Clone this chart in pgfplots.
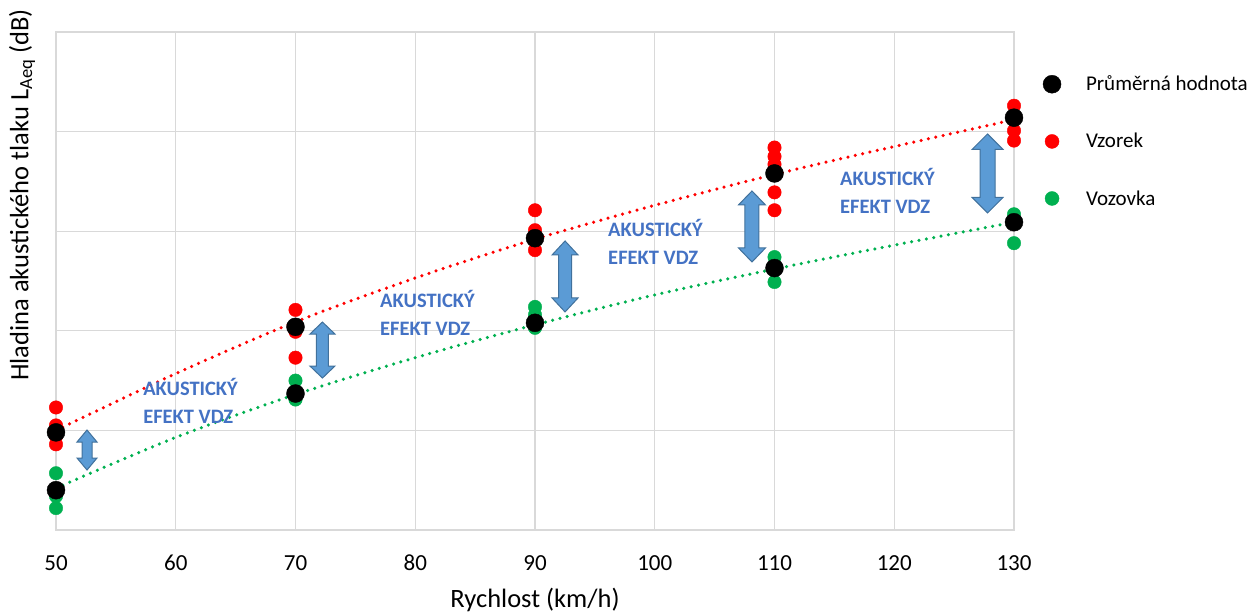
\documentclass[border=0pt]{standalone}
\usepackage{fontspec}
\setmainfont{Carlito}
\usepackage{pgfplots}
\pgfplotsset{compat=1.18}

\definecolor{xgreen}{HTML}{00B050}
\definecolor{xred}{HTML}{FF0000}
\definecolor{arrfill}{HTML}{5B9BD5}
\definecolor{arrdraw}{HTML}{41719C}
\definecolor{txtblue}{HTML}{4472C4}
\definecolor{gridgray}{HTML}{D9D9D9}

\newcommand{\dblarr}[6]{\draw[fill=arrfill, draw=arrdraw, line width=1bp, line join=miter] (axis cs:#1,#2) -- ++(#3bp,-#5bp) -- ++(-#4bp,0bp) -- ++(0bp,-#6bp) -- ++(#4bp,0bp) -- ++(-#3bp,-#5bp) -- ++(-#3bp,#5bp) -- ++(#4bp,0bp) -- ++(0bp,#6bp) -- ++(-#4bp,0bp) -- cycle;}

\pgfplotstableread{
x y
50 1.23
50 1.05
50 0.94
50 0.86
70 2.21
70 1.99
70 1.73
90 3.21
90 3.01
90 2.81
110 3.84
110 3.75
110 3.67
110 3.39
110 3.21
130 4.26
130 4.14
130 4.01
130 3.91
}\vzorek

\pgfplotstableread{
x y
50 0.57
50 0.34
50 0.22
70 1.50
70 1.31
90 2.24
90 2.16
90 2.03
110 2.74
110 2.49
130 3.17
130 2.88
}\vozovka

\pgfplotstableread{
x y
50 0.98
50 0.40
70 2.04
70 1.37
90 2.93
90 2.08
110 3.58
110 2.63
130 4.14
130 3.09
}\prumer

\pgfplotstableread{
x y
50 1.00
60 1.57
70 2.09
80 2.53
90 2.92
100 3.26
110 3.57
120 3.85
130 4.12
}\trendred

\pgfplotstableread{
x y
50 0.42
60 0.93
70 1.36
80 1.73
90 2.06
100 2.36
110 2.62
120 2.86
130 3.09
}\trendgreen

\pgfplotsset{legmark/.style={legend image code/.code={\path[draw=none,fill=none] (0bp,0bp) rectangle (41bp,0.1bp); \draw[##1] plot coordinates {(9bp,0bp)};}}}

\begin{document}
\begin{tikzpicture}
\useasboundingbox (-56bp,-82bp) rectangle (1195bp,530bp);
\begin{axis}[
  scale only axis, width=958bp, height=498bp,
  xmin=50, xmax=130, ymin=0, ymax=5,
  xtick={50,60,...,130}, ytick={0,1,...,5}, yticklabels={},
  grid=major, major grid style={gridgray, line width=1.3bp},
  axis line style={gridgray, line width=1.3bp},
  tick style={draw=none},
  /pgf/number format/assume math mode=true,
  xticklabel style={font=\fontsize{23bp}{27bp}\selectfont, anchor=base, yshift=-40bp},
  xlabel={Rychlost (km/h)},
  xlabel style={font=\fontsize{26.5bp}{30bp}\selectfont, at={(axis description cs:0.5,-0.1406)}, anchor=center},
  ylabel={Hladina akustického tlaku L\textsubscript{Aeq} (dB)},
  ylabel style={font=\fontsize{26.5bp}{30bp}\selectfont, at={(axis description cs:-0.0355,0.673)}, anchor=center},
  legend style={at={(axis description cs:1.027,0.92)}, anchor=north west, draw=none, fill=none,
    font=\fontsize{21bp}{25bp}\selectfont, row sep=37bp},
  legend cell align=left,
  clip=false,
]
\addlegendimage{only marks, mark=*, mark size=9bp, black, legmark}
\addlegendentry{Průměrná hodnota}
\addlegendimage{only marks, mark=*, mark size=7bp, xred, legmark}
\addlegendentry{Vzorek}
\addlegendimage{only marks, mark=*, mark size=7bp, xgreen, legmark}
\addlegendentry{Vozovka}

\addplot[forget plot, xred, line width=3.5bp, line cap=round, dash pattern=on 0pt off 7.5bp, smooth] table {\trendred};
\addplot[forget plot, xgreen, line width=3.5bp, line cap=round, dash pattern=on 0pt off 7.5bp, smooth] table {\trendgreen};
\addplot[forget plot, only marks, mark=*, mark size=6.75bp, xred] table {\vzorek};
\addplot[forget plot, only marks, mark=*, mark size=6.75bp, xgreen] table {\vozovka};
\addplot[forget plot, only marks, mark=*, mark size=9bp, black] table {\prumer};

\dblarr{52.59}{1.004}{10}{5}{12}{16}
\dblarr{72.25}{2.088}{12.5}{6.5}{12}{32}
\dblarr{92.51}{2.902}{13}{6.5}{14}{43}
\dblarr{108.12}{3.404}{13.5}{6.5}{14}{43}
\dblarr{127.79}{3.976}{15.5}{8}{15.5}{48}

\tikzset{lbl/.style={font=\fontsize{20.5bp}{24bp}\selectfont\bfseries, text=txtblue, anchor=base west, inner sep=0}}
\node[lbl] at (axis cs:57.27,1.355) {AKUSTICKÝ};
\node[lbl] at (axis cs:57.27,1.069) {EFEKT VDZ};
\node[lbl] at (axis cs:77.06,2.234) {AKUSTICKÝ};
\node[lbl] at (axis cs:77.06,1.953) {EFEKT VDZ};
\node[lbl] at (axis cs:96.10,2.947) {AKUSTICKÝ};
\node[lbl] at (axis cs:96.10,2.666) {EFEKT VDZ};
\node[lbl] at (axis cs:115.47,3.459) {AKUSTICKÝ};
\node[lbl] at (axis cs:115.47,3.178) {EFEKT VDZ};
\end{axis}
\end{tikzpicture}
\end{document}
